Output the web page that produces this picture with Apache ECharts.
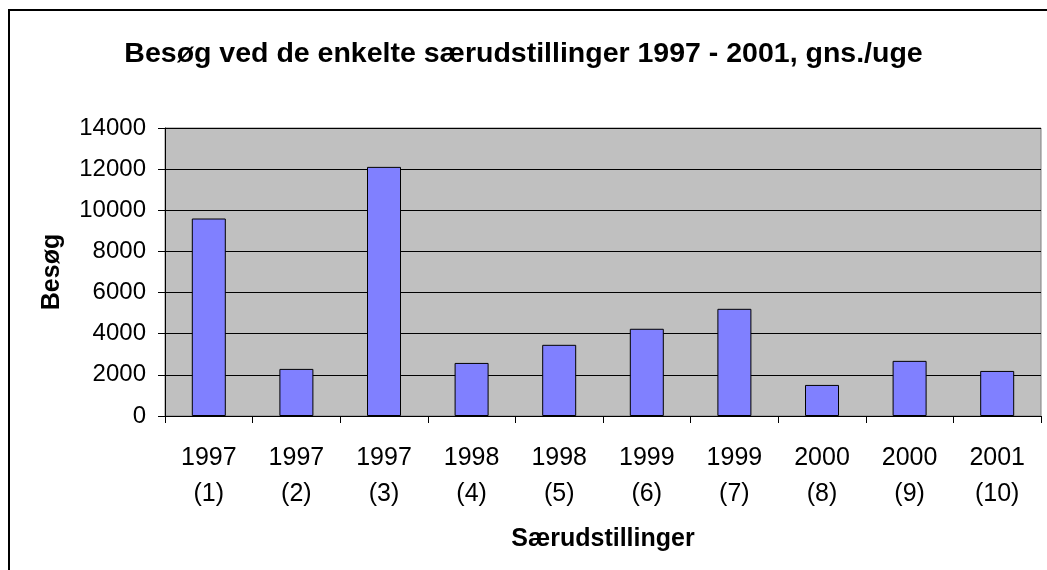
<!DOCTYPE html>
<html>
<head>
<meta charset="utf-8">
<script src="https://cdn.jsdelivr.net/npm/echarts@6/dist/echarts.min.js"></script>
<style>html,body{margin:0;padding:0;background:#fff;}#c{width:1047px;height:570px;}</style>
</head>
<body>
<div id="c"></div>
<script>
const categories = ['1997\n(1)','1997\n(2)','1997\n(3)','1998\n(4)','1998\n(5)','1999\n(6)','1999\n(7)','2000\n(8)','2000\n(9)','2001\n(10)'];
const visits = [9600, 2290, 12110, 2580, 3460, 4240, 5210, 1510, 2680, 2190];
const yTicks = {min: 0, max: 14000, interval: 2000};
const titleText = 'Besøg ved de enkelte særudstillinger 1997 - 2001, gns./uge';
const yName = 'Besøg';
const xName = 'Særudstillinger';

const font = 'Liberation Sans, Arial, sans-serif';
const chart = echarts.init(document.getElementById('c'));
chart.setOption({
  animation: false,
  backgroundColor: '#fff',
  title: {
    text: titleText, left: 'center', top: 35,
    textStyle: {fontFamily: font, fontSize: 28.5, fontWeight: 'bold', color: '#000'}
  },
  graphic: [{
    type: 'rect', silent: true, z: -1,
    shape: {x: 9, y: 10, width: 1100, height: 600},
    style: {fill: 'none', stroke: '#000', lineWidth: 2}
  }],
  grid: {left: 165, right: 6, top: 128, bottom: 154, show: true, backgroundColor: '#C0C0C0', borderColor: '#808080', borderWidth: 1},
  xAxis: {
    type: 'category', data: categories,
    name: xName, nameLocation: 'middle', nameGap: 111,
    nameTextStyle: {fontFamily: font, fontSize: 25, fontWeight: 'bold', color: '#000'},
    axisLine: {lineStyle: {color: '#000', width: 1}},
    axisTick: {show: true, alignWithLabel: false, length: 7, lineStyle: {color: '#000'}},
    axisLabel: {fontFamily: font, fontSize: 25, color: '#000', margin: 24, lineHeight: 36, interval: 0}
  },
  yAxis: {
    type: 'value', min: yTicks.min, max: yTicks.max, interval: yTicks.interval,
    name: yName, nameLocation: 'middle', nameGap: 100, nameRotate: 90,
    nameTextStyle: {fontFamily: font, fontSize: 25, fontWeight: 'bold', color: '#000'},
    axisLine: {show: true, lineStyle: {color: '#000', width: 1}},
    axisTick: {show: true, length: 7, lineStyle: {color: '#000'}},
    axisLabel: {fontFamily: font, fontSize: 24, color: '#000', margin: 19, formatter: v => String(v)},
    splitLine: {show: true, lineStyle: {color: '#000', width: 1}}
  },
  series: [{
    type: 'bar', data: visits, barWidth: 34,
    itemStyle: {color: '#8080FF', borderColor: '#000', borderWidth: 1}
  }]
});
</script>
</body>
</html>
